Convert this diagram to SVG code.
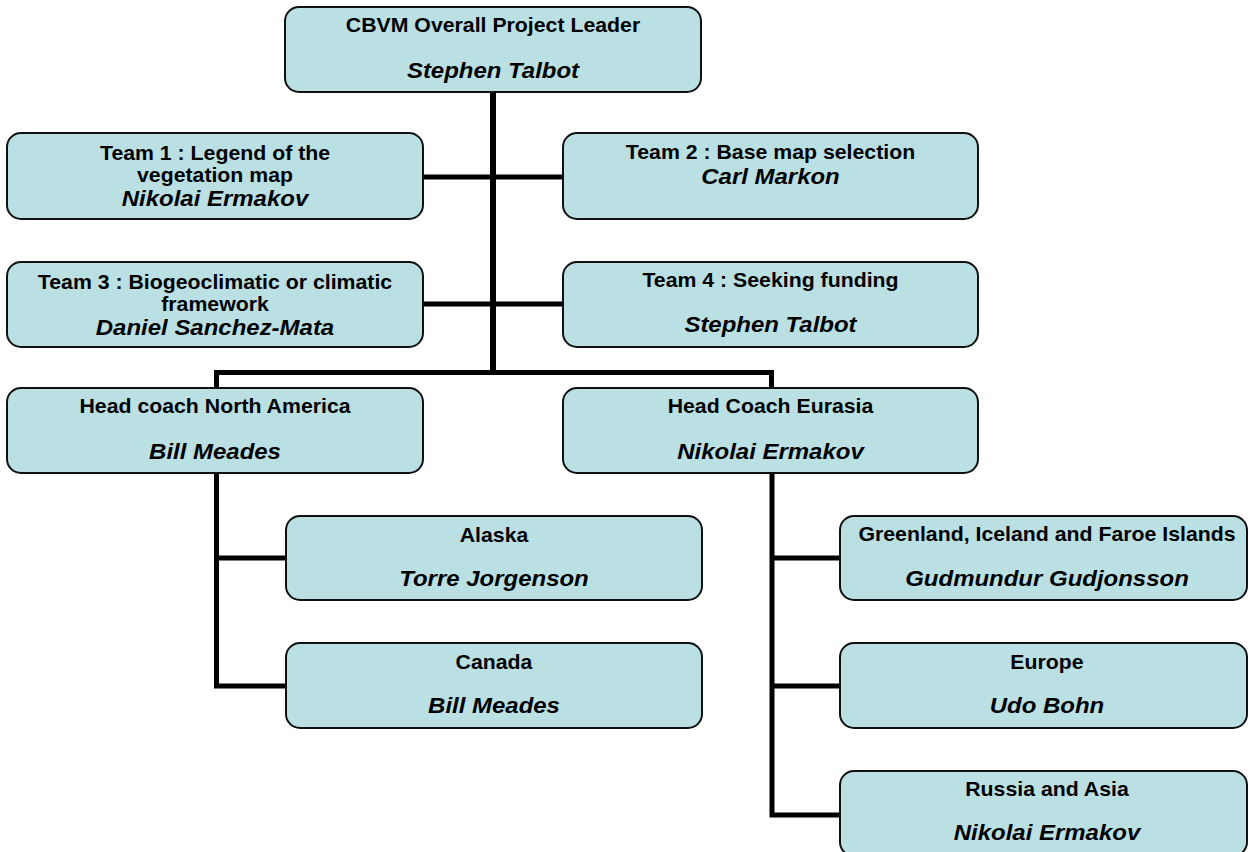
<svg xmlns="http://www.w3.org/2000/svg" width="1249" height="852" viewBox="0 0 1249 852">
<style>
.box{fill:#bbe0e3;stroke:#111;stroke-width:2}
.lbl{font-family:"Liberation Sans",Arial,sans-serif;font-weight:bold;font-size:19.7px;text-anchor:middle;fill:#000}
.nm{font-family:"Liberation Sans",Arial,sans-serif;font-weight:bold;font-style:italic;font-size:22.2px;text-anchor:middle;fill:#000}
.con{fill:none;stroke:#000;stroke-width:5;stroke-linecap:butt;stroke-linejoin:miter}
</style>
<rect width="1249" height="852" fill="#fff"/>
<g id="connectors">
<path class="con" d="M493 92 V375" style="stroke-width:6"/>
<path class="con" d="M423 177 H563"/>
<path class="con" d="M423 304 H563"/>
<path class="con" d="M216.5 388 V372.5 H771.5 V388"/>
<path class="con" d="M216.5 473 V688.5 M216.5 558 H286 M214 686 H286"/>
<path class="con" d="M772 473 V817.5 M772 558 H840 M772 686 H840 M769.5 815 H840"/>
</g>
<g id="n-top">
<rect class="box" x="285" y="7" width="416" height="85" rx="14"/>
<text class="lbl" transform="translate(493 32) scale(1.08 1)">CBVM Overall Project Leader</text>
<text class="nm" transform="translate(493 78) scale(1.08 1)">Stephen Talbot</text>
</g>
<g id="n-team1">
<rect class="box" x="7" y="133" width="416" height="86" rx="14"/>
<text class="lbl" transform="translate(215 159.5) scale(1.08 1)">Team 1 : Legend of the</text>
<text class="lbl" transform="translate(215 182) scale(1.08 1)">vegetation map</text>
<text class="nm" transform="translate(215 205.5) scale(1.08 1)">Nikolai Ermakov</text>
</g>
<g id="n-team2">
<rect class="box" x="563" y="133" width="415" height="86" rx="14"/>
<text class="lbl" transform="translate(770.5 158.5) scale(1.08 1)">Team 2 : Base map selection</text>
<text class="nm" transform="translate(770.5 184) scale(1.08 1)">Carl Markon</text>
</g>
<g id="n-team3">
<rect class="box" x="7" y="262" width="416" height="85" rx="14"/>
<text class="lbl" transform="translate(215 288.5) scale(1.08 1)">Team 3 : Biogeoclimatic or climatic</text>
<text class="lbl" transform="translate(215 311) scale(1.08 1)">framework</text>
<text class="nm" transform="translate(215 334.5) scale(1.08 1)">Daniel Sanchez-Mata</text>
</g>
<g id="n-team4">
<rect class="box" x="563" y="262" width="415" height="85" rx="14"/>
<text class="lbl" transform="translate(770.5 287) scale(1.08 1)">Team 4 : Seeking funding</text>
<text class="nm" transform="translate(770.5 332) scale(1.08 1)">Stephen Talbot</text>
</g>
<g id="n-na">
<rect class="box" x="7" y="388" width="416" height="85" rx="14"/>
<text class="lbl" transform="translate(215 413) scale(1.08 1)">Head coach North America</text>
<text class="nm" transform="translate(215 458.5) scale(1.08 1)">Bill Meades</text>
</g>
<g id="n-eurasia">
<rect class="box" x="563" y="388" width="415" height="85" rx="14"/>
<text class="lbl" transform="translate(770.5 413) scale(1.08 1)">Head Coach Eurasia</text>
<text class="nm" transform="translate(770.5 458.5) scale(1.08 1)">Nikolai Ermakov</text>
</g>
<g id="n-alaska">
<rect class="box" x="286" y="516" width="416" height="84" rx="14"/>
<text class="lbl" transform="translate(494 541.5) scale(1.08 1)">Alaska</text>
<text class="nm" transform="translate(494 586) scale(1.08 1)">Torre Jorgenson</text>
</g>
<g id="n-canada">
<rect class="box" x="286" y="643" width="416" height="85" rx="14"/>
<text class="lbl" transform="translate(494 669) scale(1.08 1)">Canada</text>
<text class="nm" transform="translate(494 713) scale(1.08 1)">Bill Meades</text>
</g>
<g id="n-greenland">
<rect class="box" x="840" y="516" width="407" height="84" rx="14"/>
<text class="lbl" transform="translate(1047 541) scale(1.08 1)">Greenland, Iceland and Faroe Islands</text>
<text class="nm" transform="translate(1047 586) scale(1.08 1)">Gudmundur Gudjonsson</text>
</g>
<g id="n-europe">
<rect class="box" x="840" y="643" width="407" height="85" rx="14"/>
<text class="lbl" transform="translate(1047 669) scale(1.08 1)">Europe</text>
<text class="nm" transform="translate(1047 713) scale(1.08 1)">Udo Bohn</text>
</g>
<g id="n-russia">
<rect class="box" x="840" y="771" width="407" height="85" rx="14"/>
<text class="lbl" transform="translate(1047 796) scale(1.08 1)">Russia and Asia</text>
<text class="nm" transform="translate(1047 840) scale(1.08 1)">Nikolai Ermakov</text>
</g>
</svg>
